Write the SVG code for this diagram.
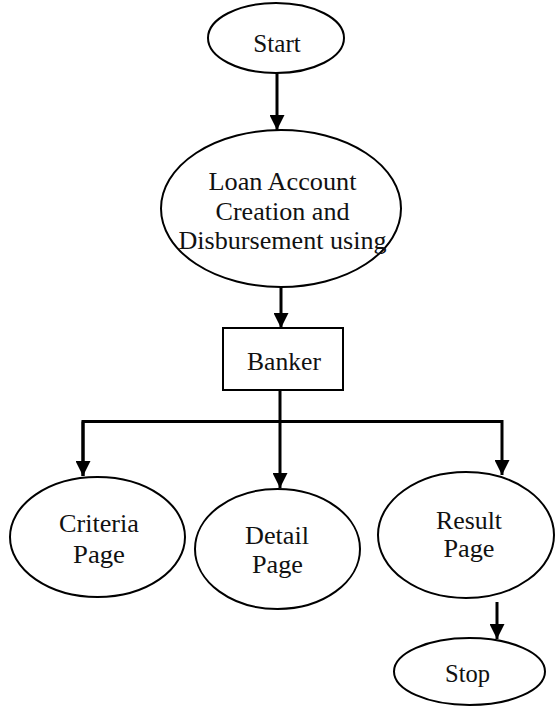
<svg xmlns="http://www.w3.org/2000/svg" width="556" height="707" viewBox="0 0 556 707">
<style>
.shape{fill:#fff;stroke:#000;stroke-width:2}
.conn{fill:none;stroke:#000;stroke-width:3}
text{font-family:'Liberation Serif','Times New Roman',serif;font-size:26px;fill:#111;text-anchor:middle}
</style>
<defs>
<marker id="ah" markerUnits="userSpaceOnUse" markerWidth="15" markerHeight="15" refX="15" refY="7.5" orient="auto" viewBox="0 0 15 15">
<path d="M0,0 L15,7.5 L0,15 z" fill="#000"/>
</marker>
</defs>
<rect width="556" height="707" fill="#fff"/>
<g id="connectors">
<line class="conn" x1="277" y1="73" x2="277" y2="130" marker-end="url(#ah)"/>
<line class="conn" x1="281" y1="287" x2="281" y2="328" marker-end="url(#ah)"/>
<line class="conn" x1="280" y1="390" x2="280" y2="421.5"/>
<polyline class="conn" points="83,476 83,421.5 502,421.5 502,475" marker-end="url(#ah)"/>
<line class="conn" x1="83" y1="421.5" x2="83" y2="476" marker-end="url(#ah)"/>
<line class="conn" x1="280" y1="421.5" x2="280" y2="488" marker-end="url(#ah)"/>
<line class="conn" x1="497" y1="602" x2="497" y2="639" marker-end="url(#ah)"/>
</g>
<g id="start">
<ellipse class="shape" cx="276" cy="38" rx="68" ry="35"/>
<text x="277" y="51.5" textLength="47.5" lengthAdjust="spacingAndGlyphs">Start</text>
</g>
<g id="loan">
<ellipse class="shape" cx="281" cy="208.5" rx="120" ry="78.5"/>
<text x="282.5" y="190" textLength="148" lengthAdjust="spacingAndGlyphs">Loan Account</text>
<text x="282.5" y="220" textLength="134" lengthAdjust="spacingAndGlyphs">Creation and</text>
<text x="282.5" y="249" textLength="208" lengthAdjust="spacingAndGlyphs">Disbursement using</text>
</g>
<g id="banker">
<rect class="shape" x="223" y="328" width="120" height="62"/>
<text x="284" y="369.5" textLength="74" lengthAdjust="spacingAndGlyphs">Banker</text>
</g>
<g id="criteria">
<ellipse class="shape" cx="97.5" cy="537" rx="87.5" ry="60"/>
<text x="99" y="532" textLength="80" lengthAdjust="spacingAndGlyphs">Criteria</text>
<text x="99" y="563" textLength="52" lengthAdjust="spacingAndGlyphs">Page</text>
</g>
<g id="detail">
<ellipse class="shape" cx="277.5" cy="549" rx="82.5" ry="60"/>
<text x="277" y="544" textLength="64" lengthAdjust="spacingAndGlyphs">Detail</text>
<text x="277.5" y="573" textLength="51" lengthAdjust="spacingAndGlyphs">Page</text>
</g>
<g id="result">
<ellipse class="shape" cx="466" cy="535" rx="88" ry="63"/>
<text x="469" y="529" textLength="66" lengthAdjust="spacingAndGlyphs">Result</text>
<text x="469" y="557" textLength="51" lengthAdjust="spacingAndGlyphs">Page</text>
</g>
<g id="stop">
<ellipse class="shape" cx="469.5" cy="671.5" rx="75.5" ry="33.5"/>
<text x="467.5" y="682" textLength="45" lengthAdjust="spacingAndGlyphs">Stop</text>
</g>
</svg>
